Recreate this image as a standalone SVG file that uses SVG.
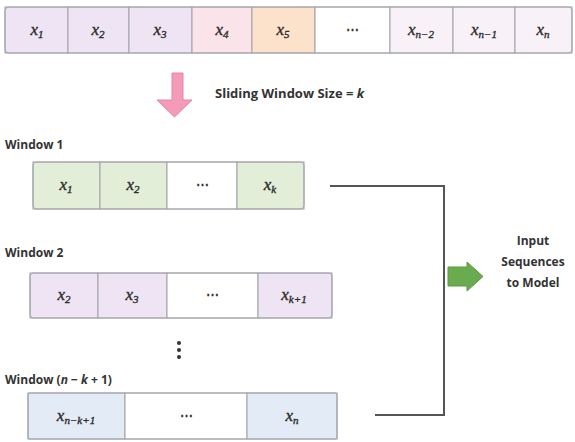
<svg xmlns="http://www.w3.org/2000/svg" width="575" height="442" viewBox="0 0 575 442">
<style>
.lbl{font-family:"Open Sans","Lato",sans-serif;font-weight:700;font-size:12px;fill:#333}
.m{font-family:"Liberation Serif",serif;font-style:italic;font-size:17px;fill:#2a2a2a;stroke:#2a2a2a;stroke-width:0.35;text-anchor:middle}
.s{font-size:11px}
.dots{font-family:"Open Sans",sans-serif;font-weight:700;font-size:13px;fill:#333;text-anchor:middle}
.cell{stroke:#a0a0a8;stroke-width:1}
.frame{fill:none;stroke:#a8a8b0;stroke-width:1.2}
.pu{fill:#efe4f3}.pk{fill:#fbe3ea}.or{fill:#fde2cb}.wh{fill:#ffffff}.lp{fill:#f8f2f8}
.gr{fill:#e3eed8}.bl{fill:#e3ebf6}
.conn{fill:none;stroke:#555;stroke-width:2}
</style>
<rect width="575" height="442" fill="#ffffff"/>

<g id="sequence">
<rect class="cell pu" x="5" y="7" width="63" height="46"/>
<rect class="cell pu" x="68" y="7" width="61" height="46"/>
<rect class="cell pu" x="129" y="7" width="63" height="46"/>
<rect class="cell pk" x="192" y="7" width="60" height="46"/>
<rect class="cell or" x="252" y="7" width="63" height="46"/>
<rect class="cell wh" x="315" y="7" width="75" height="46"/>
<rect class="cell lp" x="390" y="7" width="63" height="46"/>
<rect class="cell lp" x="453" y="7" width="62" height="46"/>
<rect class="cell lp" x="515" y="7" width="57" height="46"/>
<rect class="frame" x="5" y="7" width="567" height="46" rx="4"/>
<text class="m" x="37" y="35">x<tspan class="s" dy="3">1</tspan></text>
<text class="m" x="98" y="35">x<tspan class="s" dy="3">2</tspan></text>
<text class="m" x="160" y="35">x<tspan class="s" dy="3">3</tspan></text>
<text class="m" x="222" y="35">x<tspan class="s" dy="3">4</tspan></text>
<text class="m" x="283" y="35">x<tspan class="s" dy="3">5</tspan></text>
<text class="dots" x="352" y="34">⋯</text>
<text class="m" x="421" y="35">x<tspan class="s" dy="3">n−2</tspan></text>
<text class="m" x="484" y="35">x<tspan class="s" dy="3">n−1</tspan></text>
<text class="m" x="543" y="35">x<tspan class="s" dy="3">n</tspan></text>
</g>

<g id="slide-arrow">
<polygon points="172,73 183,73 183,100 192,100 174.5,117 157,100 172,100" fill="#f39bb9" stroke="#e585a6" stroke-width="1"/>
<text class="lbl" x="215" y="98" style="font-size:13px">Sliding Window Size = <tspan style="font-style:italic">k</tspan></text>
</g>

<g id="window1">
<text class="lbl" x="5" y="149">Window 1</text>
<rect class="cell gr" x="33" y="162" width="67" height="47"/>
<rect class="cell gr" x="100" y="162" width="67" height="47"/>
<rect class="cell wh" x="167" y="162" width="70" height="47"/>
<rect class="cell gr" x="237" y="162" width="67" height="47"/>
<rect class="frame" x="33" y="162" width="271" height="47" rx="4"/>
<text class="m" x="66" y="190">x<tspan class="s" dy="3">1</tspan></text>
<text class="m" x="133" y="190">x<tspan class="s" dy="3">2</tspan></text>
<text class="dots" x="202" y="189">⋯</text>
<text class="m" x="270" y="190">x<tspan class="s" dy="3">k</tspan></text>
</g>

<g id="window2">
<text class="lbl" x="5" y="257">Window 2</text>
<rect class="cell pu" x="30" y="273" width="68" height="45"/>
<rect class="cell pu" x="98" y="273" width="69" height="45"/>
<rect class="cell wh" x="167" y="273" width="91" height="45"/>
<rect class="cell pu" x="258" y="273" width="74" height="45"/>
<rect class="frame" x="30" y="273" width="302" height="45" rx="4"/>
<text class="m" x="64" y="300">x<tspan class="s" dy="3">2</tspan></text>
<text class="m" x="132" y="300">x<tspan class="s" dy="3">3</tspan></text>
<text class="dots" x="212" y="299">⋯</text>
<text class="m" x="294" y="300">x<tspan class="s" dy="3">k+1</tspan></text>
</g>

<g id="vdots" fill="#333">
<circle cx="179" cy="343" r="2"/>
<circle cx="179" cy="350" r="2"/>
<circle cx="179" cy="357" r="2"/>
</g>

<g id="window-last">
<text class="lbl" x="5" y="384">Window (<tspan style="font-style:italic">n</tspan> − <tspan style="font-style:italic">k</tspan> + 1)</text>
<rect class="cell bl" x="28" y="393" width="97" height="46"/>
<rect class="cell wh" x="125" y="393" width="122" height="46"/>
<rect class="cell bl" x="247" y="393" width="90" height="46"/>
<rect class="frame" x="28" y="393" width="309" height="46" rx="2"/>
<text class="m" x="76" y="421">x<tspan class="s" dy="3">n−k+1</tspan></text>
<text class="dots" x="186" y="420">⋯</text>
<text class="m" x="292" y="421">x<tspan class="s" dy="3">n</tspan></text>
</g>

<g id="connectors">
<polyline class="conn" points="330,186 444,186 444,415 375,415"/>
</g>

<g id="output">
<polygon points="448,267 467,267 467,262 483,276.5 467,291 467,286 448,286" fill="#6aab50" stroke="#5a9a42" stroke-width="1"/>
<text class="lbl" text-anchor="middle" x="533" y="245">Input</text>
<text class="lbl" text-anchor="middle" x="533" y="266">Sequences</text>
<text class="lbl" text-anchor="middle" x="533" y="287">to Model</text>
</g>
</svg>
